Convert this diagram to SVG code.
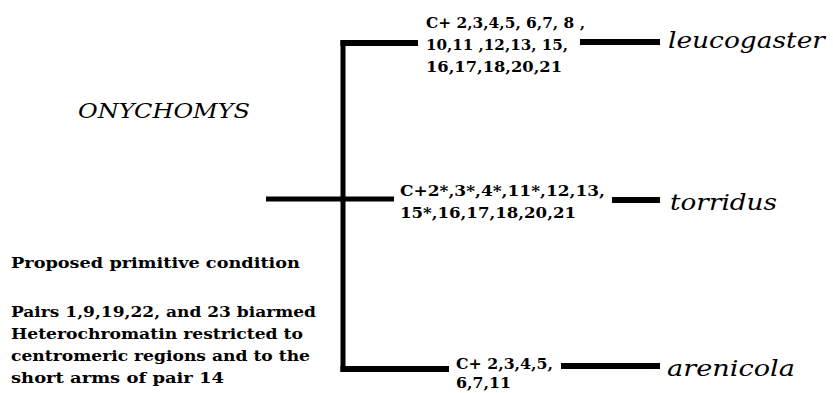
<svg xmlns="http://www.w3.org/2000/svg" width="833" height="393" viewBox="0 0 833 393">
<style>
.bg{fill:#ffffff}
.ln{stroke:#000000;fill:none;stroke-linecap:butt}
.thick{stroke-width:6}
.med{stroke-width:5}
.num{font-family:"DejaVu Serif","Liberation Serif",serif;font-weight:bold;font-size:15px;fill:#000}
.note{font-family:"DejaVu Serif","Liberation Serif",serif;font-weight:bold;font-size:15px;fill:#000}
.sp{font-family:"DejaVu Serif","Liberation Serif",serif;font-style:italic;font-size:22px;fill:#000}
.genus{font-family:"DejaVu Serif","Liberation Serif",serif;font-style:italic;font-size:21px;fill:#000}
</style>
<rect class="bg" x="0" y="0" width="833" height="393"/>
<g id="connectors">
  <line class="ln med" x1="343" y1="40" x2="343" y2="372"/>
  <line class="ln thick" x1="340.5" y1="43" x2="418" y2="43"/>
  <line class="ln med" x1="266" y1="199" x2="394" y2="199"/>
  <line class="ln thick" x1="340.5" y1="369" x2="449" y2="369"/>
  <line class="ln thick" x1="580" y1="42" x2="660" y2="42"/>
  <line class="ln thick" x1="612" y1="200" x2="660" y2="200"/>
  <line class="ln thick" x1="561" y1="366" x2="660" y2="366"/>
</g>
<g id="genus">
  <text class="genus" x="78" y="118" textLength="172" lengthAdjust="spacingAndGlyphs">ONYCHOMYS</text>
</g>
<g id="primitive-condition">
  <text class="note" x="11" y="268" textLength="289" lengthAdjust="spacingAndGlyphs">Proposed primitive condition</text>
  <text class="note" x="11" y="317" textLength="305" lengthAdjust="spacingAndGlyphs">Pairs 1,9,19,22, and 23 biarmed</text>
  <text class="note" x="11" y="339" textLength="292" lengthAdjust="spacingAndGlyphs">Heterochromatin restricted to</text>
  <text class="note" x="11" y="361" textLength="299" lengthAdjust="spacingAndGlyphs">centromeric regions and to the</text>
  <text class="note" x="11" y="383" textLength="213" lengthAdjust="spacingAndGlyphs">short arms of pair 14</text>
</g>
<g id="leucogaster">
  <text class="num" x="426" y="28" textLength="159" lengthAdjust="spacingAndGlyphs">C+ 2,3,4,5, 6,7, 8 ,</text>
  <text class="num" x="426" y="50" textLength="142" lengthAdjust="spacingAndGlyphs">10,11 ,12,13, 15,</text>
  <text class="num" x="426" y="72" textLength="136" lengthAdjust="spacingAndGlyphs">16,17,18,20,21</text>
  <text class="sp" x="668" y="48" textLength="157" lengthAdjust="spacingAndGlyphs">leucogaster</text>
</g>
<g id="torridus">
  <text class="num" x="400" y="196" textLength="205" lengthAdjust="spacingAndGlyphs">C+2*,3*,4*,11*,12,13,</text>
  <text class="num" x="400" y="218" textLength="176" lengthAdjust="spacingAndGlyphs">15*,16,17,18,20,21</text>
  <text class="sp" x="670" y="210" textLength="107" lengthAdjust="spacingAndGlyphs">torridus</text>
</g>
<g id="arenicola">
  <text class="num" x="456" y="369" textLength="97" lengthAdjust="spacingAndGlyphs">C+ 2,3,4,5,</text>
  <text class="num" x="456" y="388" textLength="55" lengthAdjust="spacingAndGlyphs">6,7,11</text>
  <text class="sp" x="667" y="376" textLength="128" lengthAdjust="spacingAndGlyphs">arenicola</text>
</g>
</svg>
